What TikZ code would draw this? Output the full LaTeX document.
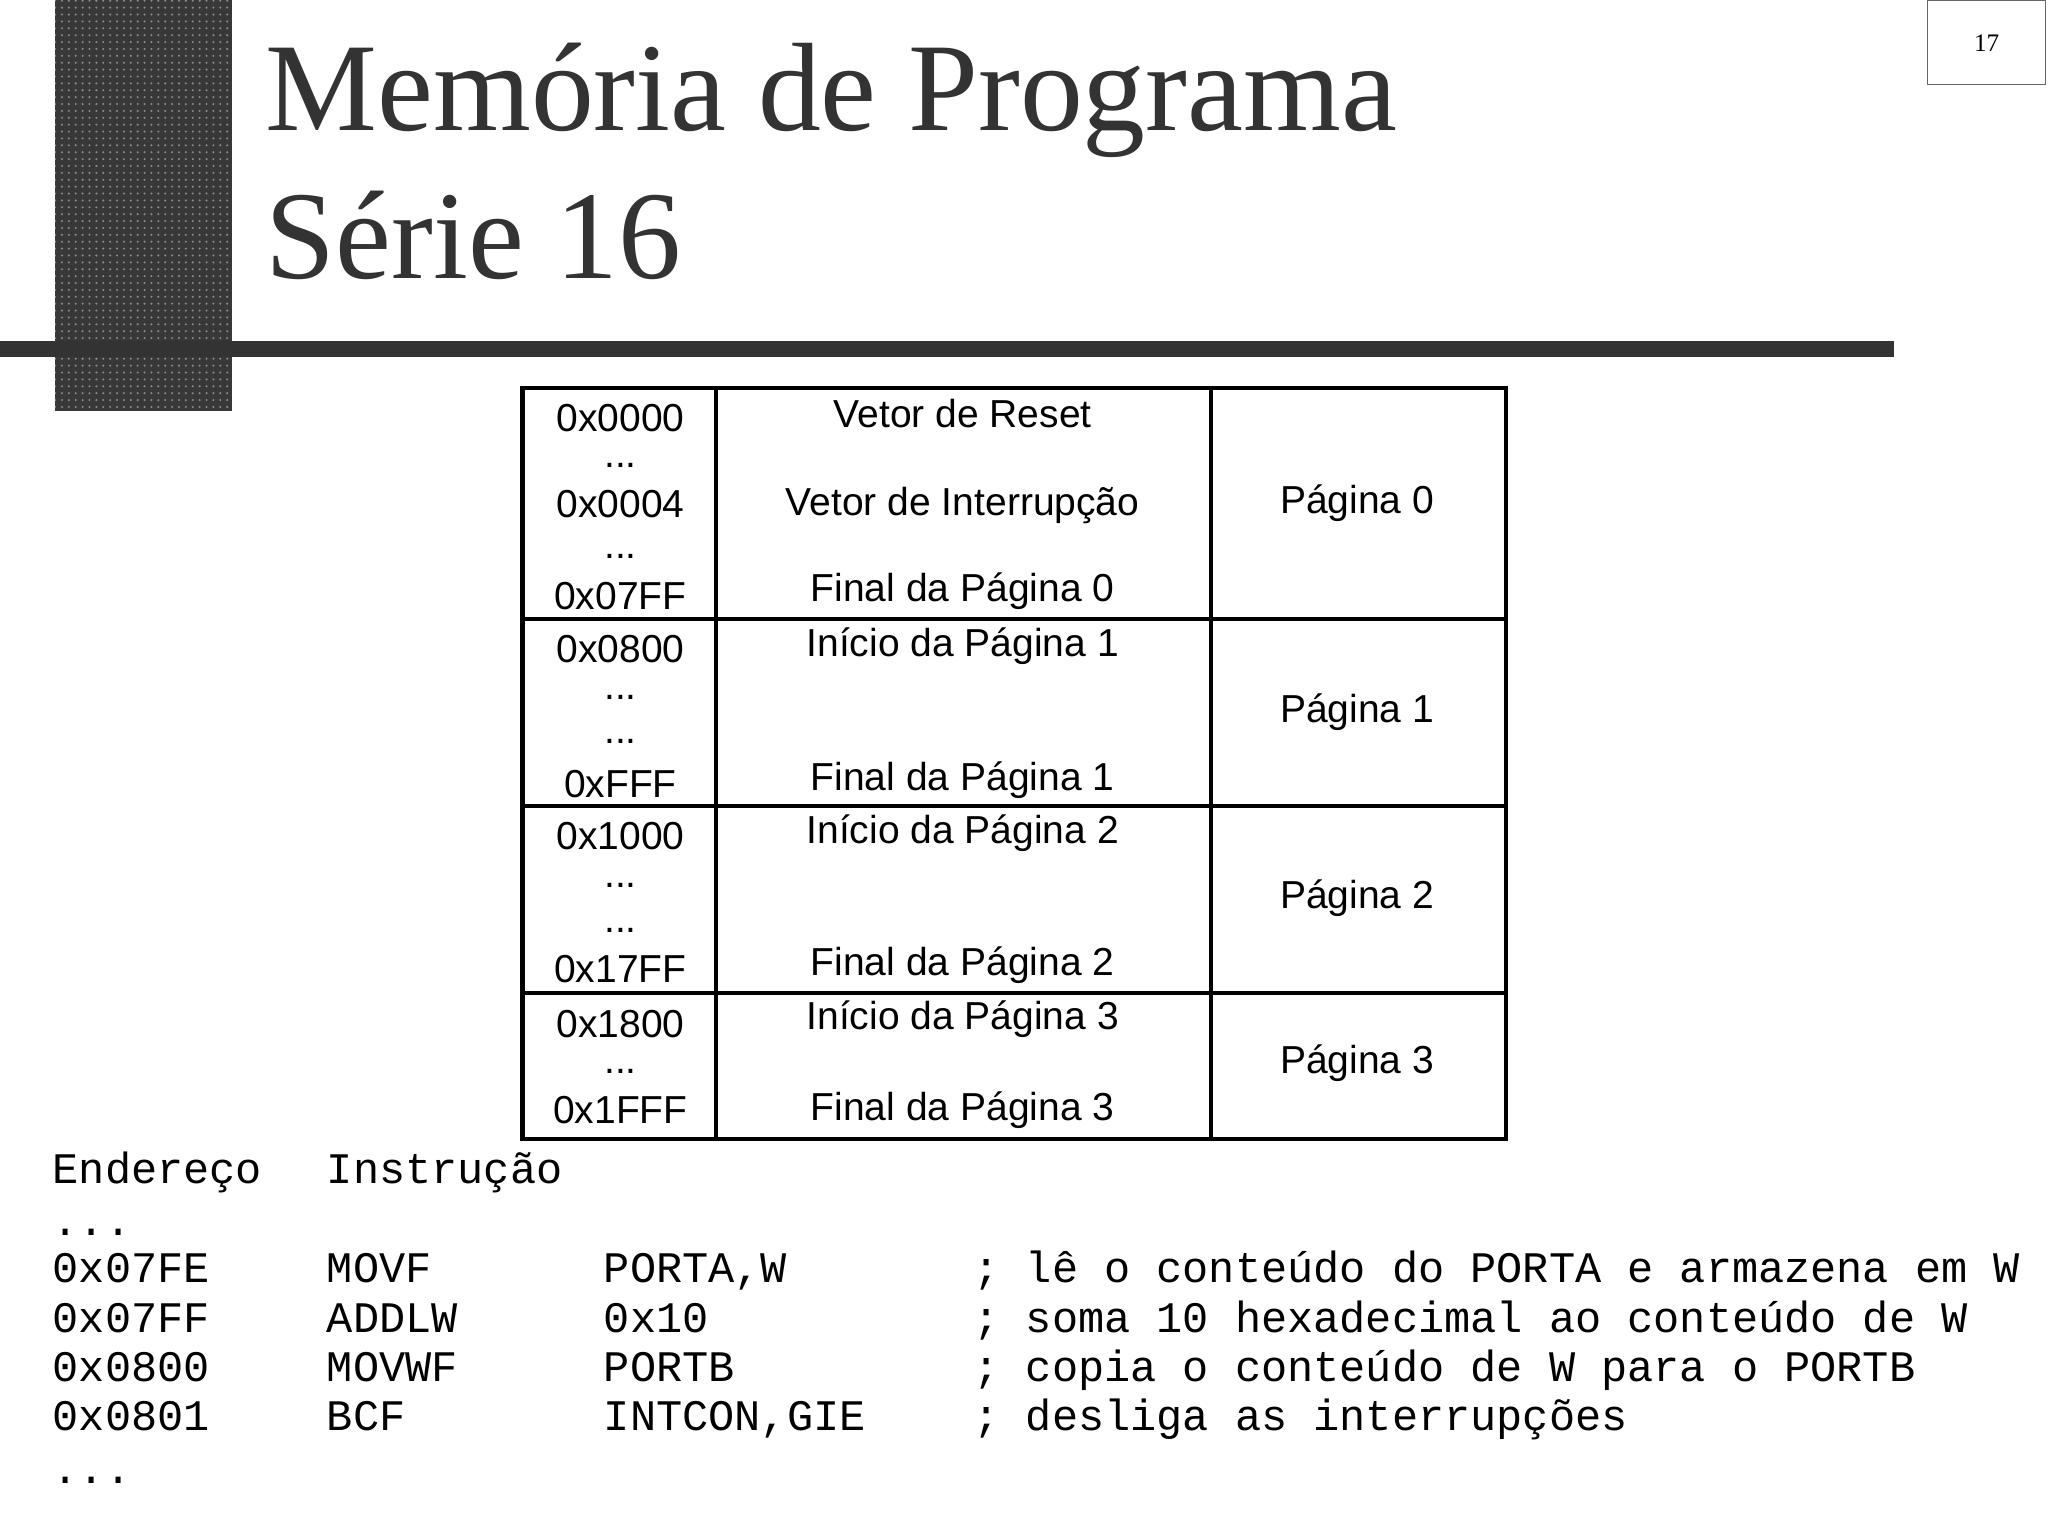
\documentclass[tikz,border=0pt]{standalone}
\usepackage{fontspec}
\setmainfont{Liberation Serif}
\newfontfamily\tabfont{Liberation Sans}
\newfontfamily\codefont{Liberation Mono}
\usetikzlibrary{patterns}
\begin{document}
\begin{tikzpicture}[x=0.02cm,y=-0.02cm,
  tl/.style={font=\tabfont\fontsize{17}{19}\selectfont,inner sep=0},
  cd/.style={font=\codefont\fontsize{19}{20}\selectfont,anchor=base west,inner sep=0},
  grid/.style={line width=3.2*0.569pt,black}]
\useasboundingbox (0,0) rectangle (1568,1176);
\fill[white] (0,0) rectangle (1568,1176);
\fill[black!78] (42,0) rectangle (178,315);
\fill[pattern=dots,pattern color=black!45] (42,0) rectangle (178,315);
\fill[black!80] (0,261) rectangle (1450,273);
\node[font=\fontsize{54.8}{60}\selectfont,anchor=base west,inner sep=0,text=black!80] (t1) at (203,100) {Memória de Programa};
\node[font=\fontsize{54.8}{60}\selectfont,anchor=base west,inner sep=0,text=black!80] (t2) at (203,213) {Série 16};
\draw[black!60] (1476,0) rectangle (1566,65);
\node[font=\fontsize{11}{12}\selectfont] (pn) at (1521,33) {17};
% table
\draw[grid] (400,297) rectangle (1153,872);
\draw[grid] (548,297) -- (548,872) (927,297) -- (927,872);
\draw[grid] (400,474) -- (1153,474) (400,617) -- (1153,617) (400,760) -- (1153,760);
\node[tl] (a1) at (475,320) {0x0000};
\node[tl] (a2) at (475,356) {...};
\node[tl] (a3) at (475,386) {0x0004};
\node[tl] (a4) at (475,426) {...};
\node[tl] (a5) at (475,456) {0x07FF};
\node[tl] (b1) at (737,317) {Vetor de Reset};
\node[tl] (b2) at (737,387) {Vetor de Interrupção};
\node[tl] (b3) at (737,453) {Final da Página 0};
\node[tl] (c1) at (1039,385) {Página 0};
\node[tl] (a6) at (475,497) {0x0800};
\node[tl] (a7) at (475,534) {...};
\node[tl] (a8) at (475,568) {...};
\node[tl] (a9) at (475,600) {0xFFF};
\node[tl] (b4) at (737,495) {Início da Página 1};
\node[tl] (b5) at (737,597) {Final da Página 1};
\node[tl] (c2) at (1039,545) {Página 1};
\node[tl] (a10) at (475,640) {0x1000};
\node[tl] (a11) at (475,678) {...};
\node[tl] (a12) at (475,712) {...};
\node[tl] (a13) at (475,742) {0x17FF};
\node[tl] (b6) at (737,638) {Início da Página 2};
\node[tl] (b7) at (737,739) {Final da Página 2};
\node[tl] (c3) at (1039,688) {Página 2};
\node[tl] (a14) at (475,784) {0x1800};
\node[tl] (a15) at (475,820) {...};
\node[tl] (a16) at (475,850) {0x1FFF};
\node[tl] (b8) at (737,780) {Início da Página 3};
\node[tl] (b9) at (737,850) {Final da Página 3};
\node[tl] (c4) at (1039,814) {Página 3};
% code
\node[cd] (h1) at (40,906) {Endereço};
\node[cd] (h2) at (250,906) {Instrução};
\node[cd] (d1) at (40,946) {...};
\node[cd] at (40,982) {0x07FE};\node[cd] at (250,982) {MOVF};\node[cd] at (462,982) {PORTA,W};\node[cd] at (745,982) {; lê o conteúdo do PORTA e armazena em W};
\node[cd] at (40,1020) {0x07FF};\node[cd] at (250,1020) {ADDLW};\node[cd] at (462,1020) {0x10};\node[cd] at (745,1020) {; soma 10 hexadecimal ao conteúdo de W};
\node[cd] at (40,1058) {0x0800};\node[cd] at (250,1058) {MOVWF};\node[cd] at (462,1058) {PORTB};\node[cd] at (745,1058) {; copia o conteúdo de W para o PORTB};
\node[cd] at (40,1095) {0x0801};\node[cd] at (250,1095) {BCF};\node[cd] at (462,1095) {INTCON,GIE};\node[cd] at (745,1095) {; desliga as interrupções};
\node[cd] (d2) at (40,1136) {...};
\end{tikzpicture}
\end{document}
